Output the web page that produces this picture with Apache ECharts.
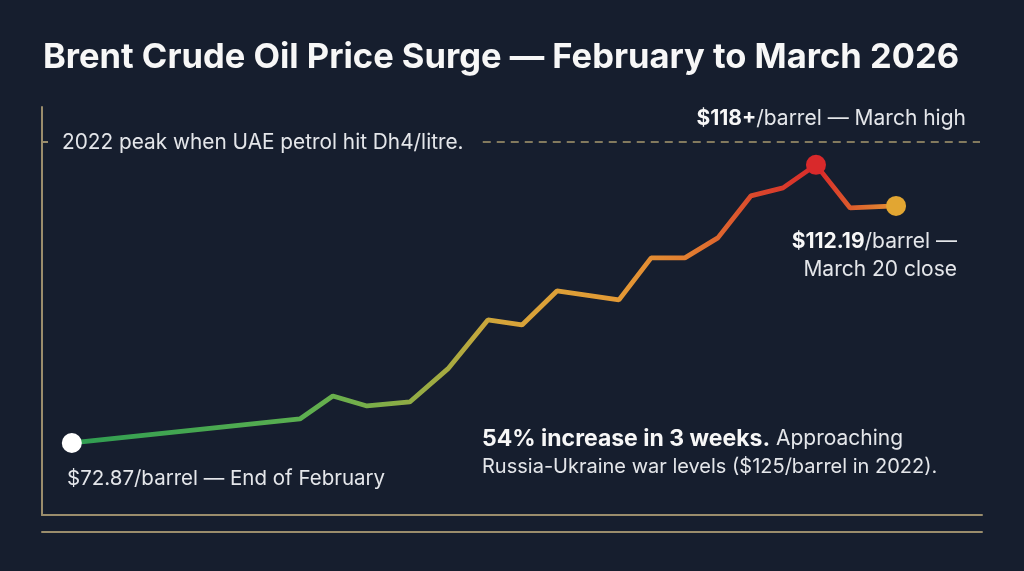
<!DOCTYPE html>
<html>
<head>
<meta charset="utf-8">
<style>
  html, body { margin: 0; padding: 0; background: #161e2e; }
  #chart { width: 1024px; height: 571px; }
</style>
<script src="https://cdn.jsdelivr.net/npm/echarts@6/dist/echarts.min.js"></script>
</head>
<body>
<div id="chart"></div>
<script>
// days after Feb 27 close and Brent price in $/barrel
const days = [0, 5.81, 6.65, 7.52, 8.61, 9.58, 10.6, 11.47, 12.36, 13.94, 14.76, 15.62, 16.46, 17.3, 18.12, 18.96, 19.83, 21];
const prices = [72.87, 76.85, 80.67, 79.01, 79.67, 85.15, 93.28, 92.45, 98.09, 96.6, 103.57, 103.57, 106.89, 113.85, 115.18, 119.0, 111.86, 112.19];
const peak2022 = 122.8;          // dashed reference level
const refLineDays = [10.47, 23.14];
const peakIndex = 15;

const font = 'Inter, "Noto Sans", sans-serif';
const gold = '#9a8d6c';

const markerStyles = {
    0: { color: '#ffffff' },
    [peakIndex]: { color: '#d9292b' },
    [prices.length - 1]: { color: '#e2a632' }
};

const lineData = days.map((d, i) => {
    const item = { value: [d, prices[i]] };
    if (markerStyles[i]) {
        item.symbol = 'circle';
        item.symbolSize = 20;
        item.itemStyle = markerStyles[i];
    }
    return item;
});

const hiddenX = (offset) => ({
    type: 'value',
    position: 'bottom',
    offset: offset,
    min: -0.76,
    max: 23.19,
    axisLine: { show: true, onZero: false, lineStyle: { color: gold, width: 2 } },
    axisTick: { show: false },
    axisLabel: { show: false },
    splitLine: { show: false }
});

const bold = { fontWeight: 'bold', fontFamily: 'Inter, "Noto Sans", sans-serif', fill: '#f7f7f7' };

const chart = echarts.init(document.getElementById('chart'));

chart.setOption({
    backgroundColor: '#161e2e',
    animation: false,
    grid: { left: 42, right: 42, top: 107, bottom: 56 },
    xAxis: [hiddenX(0), hiddenX(17)],
    yAxis: {
        type: 'value',
        min: 60.92,
        max: 128.6,
        axisLine: { show: true, onZero: false, lineStyle: { color: gold, width: 2 } },
        axisTick: { show: true, inside: true, length: 6, customValues: [peak2022], lineStyle: { color: gold, width: 2 } },
        axisLabel: { show: false },
        splitLine: { show: false }
    },
    series: [{
        type: 'line',
        data: lineData,
        symbol: 'none',
        showSymbol: true,
        lineStyle: {
            width: 4.8,
            color: new echarts.graphic.LinearGradient(0, 0, 1, 0, [
                { offset: 0, color: '#2e9d52' },
                { offset: 0.277, color: '#5aaf50' },
                { offset: 0.355, color: '#76ae4a' },
                { offset: 0.46, color: '#a8aa40' },
                { offset: 0.52, color: '#d6a53a' },
                { offset: 0.66, color: '#e39a35' },
                { offset: 0.75, color: '#e27c30' },
                { offset: 0.83, color: '#d9462c' },
                { offset: 0.905, color: '#d82a2a' },
                { offset: 0.94, color: '#dc5a2c' },
                { offset: 1, color: '#e39533' }
            ])
        },
        z: 3,
        markLine: {
            silent: true,
            symbol: 'none',
            label: { show: false },
            lineStyle: { color: '#a8996f', type: [8, 6], width: 1.5 },
            data: [[
                { coord: [refLineDays[0], peak2022] },
                { coord: [refLineDays[1], peak2022] }
            ]]
        }
    }],
    graphic: [
        {
            type: 'text', left: 43, top: 40,
            style: { text: 'Brent Crude Oil Price Surge — February to March 2026', fill: '#f7f7f7', font: 'bold 34.5px ' + font }
        },
        {
            type: 'text', x: 62, y: 143,
            style: { text: '2022 peak when UAE petrol hit Dh4/litre.', fill: '#e4e6ea', font: '20.8px ' + font, verticalAlign: 'middle' }
        },
        {
            type: 'text', x: 966, y: 119,
            style: {
                text: '{b|$118+}/barrel — March high',
                align: 'right', verticalAlign: 'middle',
                fill: '#e4e6ea', font: '21px ' + font,
                rich: { b: Object.assign({ fontSize: 21 }, bold) }
            }
        },
        {
            type: 'text', x: 957, y: 242,
            style: {
                text: '{b|$112.19}/barrel —',
                align: 'right', verticalAlign: 'middle',
                fill: '#e4e6ea', font: '21px ' + font,
                rich: { b: Object.assign({ fontSize: 21 }, bold) }
            }
        },
        {
            type: 'text', x: 957, y: 270,
            style: { text: 'March 20 close', align: 'right', verticalAlign: 'middle', fill: '#e4e6ea', font: '21px ' + font }
        },
        {
            type: 'text', x: 67, y: 479,
            style: { text: '$72.87/barrel — End of February', verticalAlign: 'middle', fill: '#e4e6ea', font: '20.5px ' + font }
        },
        {
            type: 'text', x: 482, y: 439,
            style: {
                text: '{b|54% increase in 3 weeks.} Approaching',
                verticalAlign: 'middle',
                fill: '#e4e6ea', font: '21px ' + font,
                rich: { b: Object.assign({ fontSize: 23 }, bold) }
            }
        },
        {
            type: 'text', x: 482, y: 467,
            style: { text: 'Russia-Ukraine war levels ($125/barrel in 2022).', verticalAlign: 'middle', fill: '#e4e6ea', font: '20px ' + font }
        }
    ]
});

window.addEventListener('resize', () => chart.resize());
</script>
</body>
</html>
